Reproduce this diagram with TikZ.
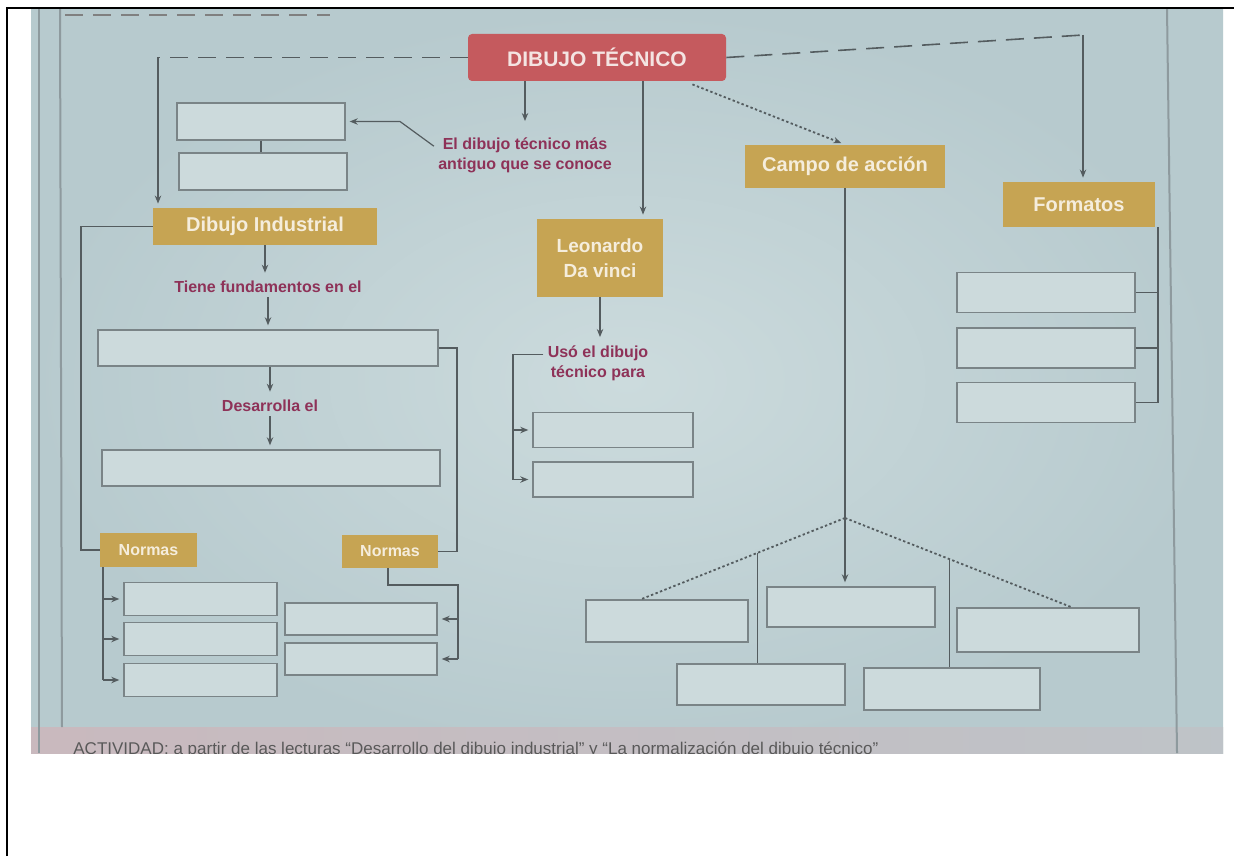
\documentclass[tikz,border=0pt]{standalone}
\usepackage{fontspec}
\setmainfont{Liberation Sans}
\usetikzlibrary{arrows.meta,calc}
\definecolor{photo}{HTML}{B7CACE}
\definecolor{photoC}{HTML}{CCDBDD}
\definecolor{redc}{HTML}{C55A5E}
\definecolor{redtxt}{HTML}{F4E4E2}
\definecolor{goldc}{HTML}{C6A453}
\definecolor{goldtxt}{HTML}{F5EDDC}
\definecolor{boxfill}{HTML}{CCDADC}
\definecolor{boxline}{HTML}{7A8487}
\definecolor{lblc}{HTML}{8E3258}
\definecolor{linec}{HTML}{545C5F}
\definecolor{pageline}{HTML}{8E9A9E}
\definecolor{pinkc}{HTML}{C9B9BE}
\begin{document}
\begin{tikzpicture}[x=0.5pt,y=-0.5pt,
  conn/.style={draw=linec, line width=0.6pt},
  arr/.style={conn, shorten >=2pt, -{Stealth[length=4pt,width=3.2pt]}},
  dashln/.style={conn, line width=0.8pt, dash pattern=on 9pt off 5pt},
  dotln/.style={conn, line width=0.9pt, dash pattern=on 1.2pt off 1.2pt},
  redbox/.style={fill=redc, text=redtxt, rounded corners=2pt, font=\fontsize{10.5}{12}\selectfont\bfseries, inner sep=0pt},
  goldbox/.style={fill=goldc, text=goldtxt, font=\fontsize{10}{12.5}\selectfont\bfseries, inner sep=0pt, align=center},
  ebox/.style={draw=boxline, line width=0.7pt, fill=boxfill, inner sep=0pt},
  lbl/.style={text=lblc, font=\fontsize{8}{10}\selectfont\bfseries, align=center, inner sep=2pt},
]
\useasboundingbox (0,0) rectangle (1234,856);
\fill[white] (0,0) rectangle (1234,856);
% photo background
\shade[inner color=photoC, outer color=photo] (31,9) rectangle (1223,753);
\shade[left color=pinkc, right color=pinkc!40!photo] (31,727) rectangle (1223,753);
\draw[pageline, line width=0.6pt] (39,9) -- (39,753);
\draw[pageline, line width=1pt] (60,9) -- (62,727);
\draw[pageline, line width=1pt] (1167,9) -- (1177,753);
\draw[dashln, draw=gray] (65,15) -- (330,15);
\begin{scope}
\clip (31,9) rectangle (1223,753);
\node[anchor=west, inner sep=0pt, text=black!65, font=\fontsize{8.5}{9}\selectfont] (act) at (73,750) {ACTIVIDAD: a partir de las lecturas “Desarrollo del dibujo industrial” y “La normalización del dibujo técnico”};
\end{scope}
\draw[black, line width=1.3pt] (7,856) -- (7,8) -- (1234,8);

% nodes
\node[redbox, minimum width=129pt, minimum height=23.5pt] (dt) at (597,57.5) {DIBUJO TÉCNICO};
\node[ebox, minimum width=84pt, minimum height=18.5pt] (b1) at (261,121.5) {};
\node[ebox, minimum width=84pt, minimum height=18.5pt] (b2) at (263,171.5) {};
\node[goldbox, minimum width=112pt, minimum height=18.5pt] (di) at (265,226.5) {Dibujo Industrial};
\node[lbl] (l1) at (525,155) {El dibujo técnico más\\antiguo que se conoce};
\node[lbl] (tf) at (268,287) {Tiene fundamentos en el};
\node[ebox, minimum width=170pt, minimum height=18pt] (b3) at (268,348) {};
\node[lbl] (de) at (270,406) {Desarrolla el};
\node[ebox, minimum width=169pt, minimum height=18pt] (b4) at (271,468) {};
\node[goldbox, font=\fontsize{8}{10}\selectfont\bfseries, minimum width=48.5pt, minimum height=17pt] (n1) at (148.5,550) {Normas};
\node[goldbox, font=\fontsize{8}{10}\selectfont\bfseries, minimum width=48pt, minimum height=16.5pt] (n2) at (390,551.5) {Normas};
\node[ebox, minimum width=76.5pt, minimum height=16.5pt] (la) at (200.5,599) {};
\node[ebox, minimum width=76.5pt, minimum height=16.5pt] (lb) at (200.5,639) {};
\node[ebox, minimum width=76.5pt, minimum height=16.5pt] (lc) at (200.5,680) {};
\node[ebox, minimum width=76pt, minimum height=16pt] (rd) at (361,619) {};
\node[ebox, minimum width=76pt, minimum height=16pt] (re) at (361,659) {};
\node[goldbox, font=\fontsize{9.5}{12.5}\selectfont\bfseries, minimum width=63pt, minimum height=39pt] (leo) at (600,258) {Leonardo\\Da vinci};
\node[lbl] (uso) at (598,363) {Usó el dibujo\\técnico para};
\node[ebox, minimum width=80pt, minimum height=17.5pt] (lf) at (613,430) {};
\node[ebox, minimum width=80pt, minimum height=17.5pt] (lg) at (613,479.5) {};
\node[goldbox, minimum width=100pt, minimum height=21.5pt] (campo) at (845,166.5) {Campo de acción};
\node[goldbox, minimum width=76pt, minimum height=22.5pt] (form) at (1079,204.5) {Formatos};
\node[ebox, minimum width=89pt, minimum height=20pt] (fa) at (1046,292.5) {};
\node[ebox, minimum width=89pt, minimum height=20pt] (fb) at (1046,348) {};
\node[ebox, minimum width=89pt, minimum height=20pt] (fc) at (1046,402.5) {};
\node[ebox, minimum width=81pt, minimum height=21pt] (ca) at (667,621) {};
\node[ebox, minimum width=84pt, minimum height=20pt] (cb) at (851,607) {};
\node[ebox, minimum width=91pt, minimum height=22pt] (cc) at (1048,630) {};
\node[ebox, minimum width=84pt, minimum height=20.5pt] (cd) at (761,684.5) {};
\node[ebox, minimum width=88pt, minimum height=21pt] (ce) at (952,689) {};

% connectors from DIBUJO TECNICO
\coordinate (k1) at (158,57.5);
\draw[dashln] (dt.west) -- (k1);
\draw[arr] (k1) -- (k1 |- di.north);
\coordinate (k2) at (1083,35);
\draw[dashln] (dt.east) -- (k2);
\draw[arr] (k2) -- (k2 |- form.north);
\draw[arr, shorten >=6pt] (dt.south -| l1) -- (l1.north);
\coordinate (k3) at (400,121.5);
\draw[arr] ($(l1.north west)!0.3!(l1.south west)$) -- (k3) -- (b1.east);
\draw[conn] (b1.south) -- (b1.south |- b2.north);
\coordinate (k4) at (643,0);
\draw[arr] (dt.south -| k4) -- (leo.north -| k4);
\draw[dotln, shorten >=2pt, -{Stealth[length=4pt,width=3.2pt]}] ($(dt.south east)+(-34,3)$) -- (campo.north);

% Dibujo industrial branch
\draw[arr] (di.south) -- (di.south |- tf.north);
\draw[arr] (tf.south) -- (tf.south |- b3.north);
\draw[arr] (b3.south -| de) -- (de.north);
\draw[arr] (de.south) -- (de.south |- b4.north);
\coordinate (k5) at (81,550);
\draw[conn] (di.west) -| (k5) -- (n1.west);
\coordinate (k6) at (457,551.5);
\draw[conn] (b3.east) -| (k6) -- (n2.east);
\coordinate (k7) at (103,0);
\draw[conn] (n1.south -| k7) -- (lc.west -| k7);
\foreach \b in {la,lb,lc} { \draw[arr] (\b.west -| k7) -- (\b.west); }
\coordinate (k8) at (388,585);
\coordinate (k9) at (458,585);
\draw[conn] (n2.south -| k8) -- (k8) -- (k9) -- (k9 |- re.east);
\foreach \b in {rd,re} { \draw[arr] (k9 |- \b.east) -- (\b.east); }

% Leonardo branch
\draw[arr] (leo.south) -- (leo.south |- uso.north);
\coordinate (k10) at (513,0);
\coordinate (u1) at ($(uso.north west)!0.3!(uso.south west)$);
\draw[conn] (u1) -- (u1 -| k10) -- (lg.west -| k10);
\foreach \b in {lf,lg} { \draw[arr] (\b.west -| k10) -- (\b.west); }

% Campo de accion branch
\draw[arr] (campo.south) -- (campo.south |- cb.north);
\coordinate (ap) at (845,518);
\coordinate (caT) at ($(ca.north west)!0.34!(ca.north east)$);
\coordinate (ccT) at ($(cc.north west)!0.63!(cc.north east)$);
\draw[dotln] (ap) -- (caT);
\draw[dotln] (ap) -- (ccT);
\coordinate (q1) at ($(ap)!0.43!(caT)$);
\coordinate (q2) at ($(ap)!0.46!(ccT)$);
\draw[conn] (q1) -- (q1 |- cd.north);
\draw[conn] (q2) -- (q2 |- ce.north);

% Formatos branch
\coordinate (k11) at (1158,0);
\draw[conn] (form.south east -| k11) -- (fc.east -| k11);
\foreach \b in {fa,fb,fc} { \draw[conn] (\b.east) -- (\b.east -| k11); }
\end{tikzpicture}
\end{document}
